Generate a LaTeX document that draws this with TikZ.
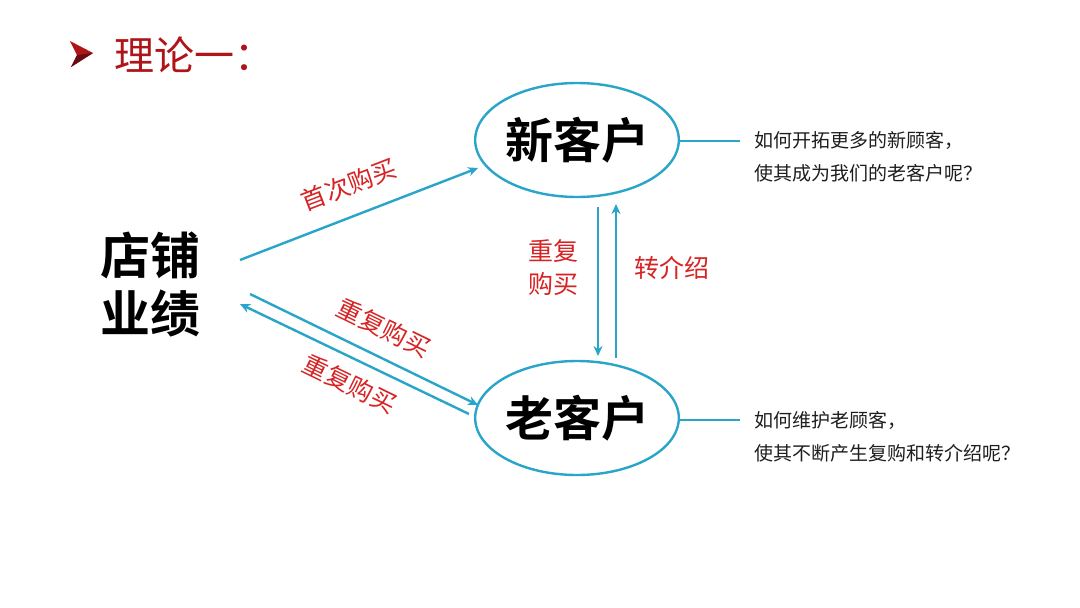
\documentclass[tikz,border=0pt]{standalone}
\usepackage{fontspec}
\setmainfont{Noto Sans CJK SC}
\newfontfamily\cjk{Noto Sans CJK SC}
\newfontfamily\cjkb{Noto Sans CJK SC Bold}
\usetikzlibrary{shapes.geometric,arrows.meta}
\definecolor{linec}{RGB}{40,165,200}
\definecolor{labr}{RGB}{215,35,35}
\definecolor{titr}{RGB}{175,20,25}
\definecolor{txtc}{RGB}{30,30,30}
\tikzset{
  conn/.style={draw=linec,line width=2.4pt},
  arr/.style={conn,-{Stealth[length=10pt,width=9pt]}},
  oval/.style={ellipse,draw=linec,line width=2.4pt,minimum width=196pt,minimum height=114pt,inner sep=0pt,font=\cjkb\fontsize{48}{50}\selectfont},
  lab/.style={text=labr,font=\cjk\fontsize{25}{33}\selectfont,inner sep=0pt,align=center},
  note/.style={text=txtc,font=\cjk\fontsize{19}{33}\selectfont,inner sep=0pt,align=left,anchor=west},
}
\begin{document}
\begin{tikzpicture}[x=1pt,y=-1pt]
\useasboundingbox[fill=white] (0,0) rectangle (1080,608);
% title
\fill[titr] (70,41) -- (93,53) -- (71,67) -- (77,55) -- cycle;
\fill[titr!60!black] (77,55) -- (93,53) -- (71,67) -- cycle;
\node[anchor=west,text=titr,font=\cjk\fontsize{40}{40}\selectfont,inner sep=0pt] (title) at (114,55) {理论一：};
% main nodes
\node[font=\cjkb\fontsize{50}{58}\selectfont,align=center,inner sep=0pt] (shop) at (150,284) {店铺\\业绩};
\node[oval] (new) at (577,140) {新客户};
\node[oval] (old) at (577,418) {老客户};
% endpoints
\coordinate (a1) at (240,260);
\coordinate (a2) at (478,168);
\coordinate (b1) at (250,294);
\coordinate (b2) at (478,405);
\coordinate (c1) at (469,414);
\coordinate (c2) at (240,304);
\coordinate (d1) at (598,207);
\coordinate (d2) at (598,356);
\coordinate (e1) at (616,358);
\coordinate (e2) at (616,204);
\coordinate (n1) at (740,141);
\coordinate (o1) at (740,420);
% connectors
\draw[arr] (a1) -- (a2);
\draw[arr] (b1) -- (b2);
\draw[arr] (c1) -- (c2);
\draw[arr] (d1) -- (d2);
\draw[arr] (e1) -- (e2);
\draw[conn] (new.east |- n1) -- (n1);
\draw[conn] (old.east |- o1) -- (o1);
% labels
\node[lab,rotate=21] (l1) at (349,185) {首次购买};
\node[lab,rotate=-26] (l2) at (384,328) {重复购买};
\node[lab,rotate=-26] (l3) at (350,384) {重复购买};
\node[lab] (l4) at (553,268) {重复\\购买};
\node[lab] (l5) at (672,268) {转介绍};
% notes
\node[note] (t1) at (754,157) {如何开拓更多的新顾客，\\使其成为我们的老客户呢？};
\node[note] (t2) at (754,437) {如何维护老顾客，\\使其不断产生复购和转介绍呢？};
\end{tikzpicture}
\end{document}
